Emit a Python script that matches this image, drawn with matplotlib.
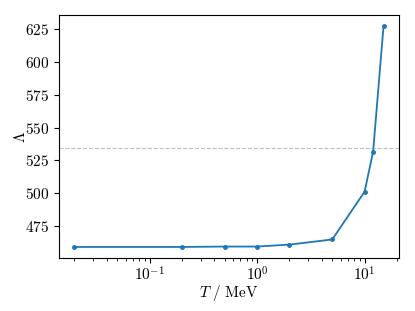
import matplotlib
matplotlib.use("Agg")
import matplotlib.pyplot as plt

T_MeV = [0.02, 0.2, 0.5, 1.0, 2.0, 5.0, 10.0, 12.0, 15.0]
Lambda = [459.0, 459.0, 459.3, 459.3, 460.8, 464.7, 501.2, 531.8, 627.5]
ref_level = 534.5

plt.rcParams['font.family'] = 'cmr10'
plt.rcParams['mathtext.fontset'] = 'cm'
plt.rcParams['axes.formatter.use_mathtext'] = True
plt.rcParams['font.size'] = 11

fig = plt.figure(figsize=(4.15, 3.11), dpi=100)
ax = fig.add_axes([59/415, 1-258/311, (399-59)/415, (258-15)/311])
ax.plot(T_MeV, Lambda, color='#1f77b4', marker='.', markersize=5, lw=1.3)
ax.axhline(ref_level, color='gray', ls='--', lw=0.8, alpha=0.5)
ax.set_xscale('log')
ax.set_yticks([475, 500, 525, 550, 575, 600, 625])
ax.tick_params(axis='x', which='major', pad=2)
ax.set_xlabel(r'$T\ /\ \mathrm{MeV}$', labelpad=-1)
ax.set_ylabel(r'$\Lambda$', labelpad=-2)
fig.savefig('out.png', dpi=100)
